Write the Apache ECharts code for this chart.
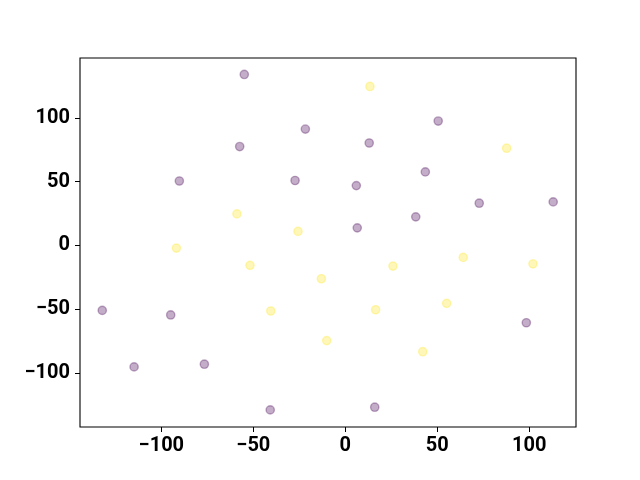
<!DOCTYPE html>
<html>
<head>
<meta charset="utf-8">
<script src="https://cdn.jsdelivr.net/npm/echarts@6/dist/echarts.min.js"></script>
<style>
  html, body { margin: 0; padding: 0; background: #fff; }
  #chart { width: 640px; height: 480px; }
</style>
</head>
<body>
<div id="chart"></div>
<script>
// points of class 0 (purple) and class 1 (yellow), [x, y]
var purplePoints = [
  [-54.9, 134.0], [-21.7, 91.2], [50.5, 97.5], [13.0, 80.3], [-57.4, 77.5],
  [-90.2, 50.5], [-27.3, 50.9], [6.0, 46.9], [43.5, 57.6], [38.3, 22.4],
  [72.8, 33.1], [113.0, 34.1], [6.5, 13.8], [-132.1, -50.9], [-94.9, -54.5],
  [-114.8, -95.2], [-76.6, -93.1], [-40.8, -128.9], [16.0, -126.8], [98.4, -60.6]
]
var yellowPoints = [
  [13.4, 124.6], [87.7, 76.2], [-58.9, 24.7], [-25.7, 11.0], [-91.8, -2.1],
  [-51.8, -15.6], [-13.0, -26.1], [25.9, -16.2], [64.1, -9.4], [102.0, -14.4],
  [-40.5, -51.4], [16.5, -50.4], [55.1, -45.4], [-10.1, -74.6], [42.1, -83.3]
]
var xTicks = [-100, -50, 0, 50, 100]
var yTicks = [-100, -50, 0, 50, 100]
var xRange = [-144.2, 125.4]
var yRange = [-142.3, 146.9]

var minus = function (v) { return String(v).replace('-', '\u2212') }

var labelStyle = {
  color: '#000',
  fontFamily: 'Roboto',
  fontWeight: 'bold',
  fontSize: 20
}

var chart = echarts.init(document.getElementById('chart'), null, { renderer: 'canvas' })
chart.setOption({
  backgroundColor: '#fff',
  animation: false,
  grid: {
    left: 80,
    right: 64,
    top: 58,
    bottom: 53,
    show: true,
    borderColor: '#000',
    borderWidth: 1.1,
    backgroundColor: '#fff'
  },
  xAxis: {
    type: 'value',
    min: xRange[0],
    max: xRange[1],
    axisLine: { show: false, onZero: false },
    splitLine: { show: false },
    axisTick: {
      show: true,
      length: 5,
      customValues: xTicks,
      lineStyle: { color: '#000', width: 1 }
    },
    axisLabel: Object.assign({
      customValues: xTicks,
      margin: 9,
      formatter: minus
    }, labelStyle)
  },
  yAxis: {
    type: 'value',
    min: yRange[0],
    max: yRange[1],
    axisLine: { show: false, onZero: false },
    splitLine: { show: false },
    axisTick: {
      show: true,
      length: 5,
      customValues: yTicks,
      lineStyle: { color: '#000', width: 1 }
    },
    axisLabel: Object.assign({
      customValues: yTicks,
      margin: 10,
      formatter: minus
    }, labelStyle)
  },
  series: [{
    type: 'scatter',
    data: purplePoints,
    symbolSize: 8.3,
    itemStyle: {
      color: 'rgba(68,1,84,0.4)',
      borderColor: 'rgba(68,1,84,0.4)',
      borderWidth: 1.4
    }
  }, {
    type: 'scatter',
    data: yellowPoints,
    symbolSize: 8.3,
    itemStyle: {
      color: 'rgba(253,231,37,0.4)',
      borderColor: 'rgba(253,231,37,0.4)',
      borderWidth: 1.4
    }
  }]
})
window.onresize = function () {
  chart.resize()
}
</script>
</body>
</html>
